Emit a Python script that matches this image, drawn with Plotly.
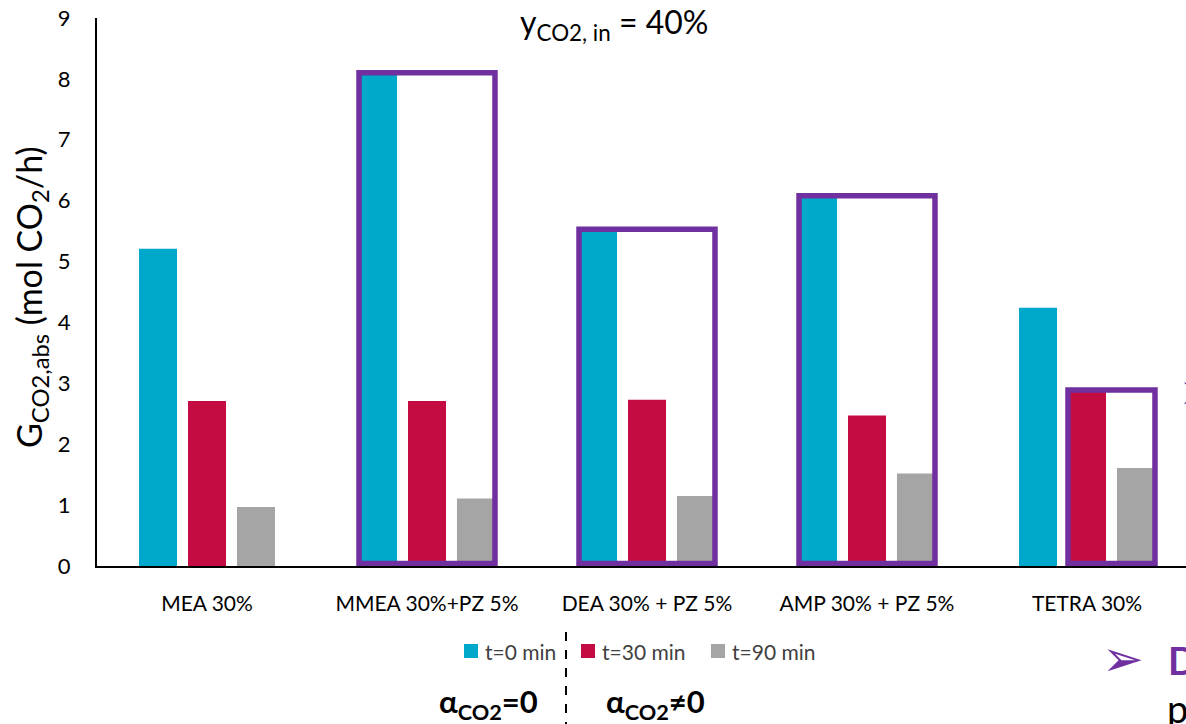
import plotly.graph_objects as go

# Absorbed CO2 rate for each solvent at three sampling times
solvents = ["MEA 30%", "MMEA 30%+PZ 5%", "DEA 30% + PZ 5%", "AMP 30% + PZ 5%", "TETRA 30%"]
series_names = ["t=0 min", "t=30 min", "t=90 min"]
g_t0 = [5.21, 8.10, 5.53, 6.08, 4.24]
g_t30 = [2.71, 2.71, 2.73, 2.47, 2.89]
g_t90 = [0.97, 1.11, 1.15, 1.52, 1.61]
series_values = [g_t0, g_t30, g_t90]
series_colors = ["#00A9CB", "#C40C42", "#A5A5A5"]

# Highlighted groups: (solvent index, first series, last series)
highlights = [(1, 0, 2), (2, 0, 2), (3, 0, 2), (4, 1, 2)]

FONT = "Lato, 'Open Sans', sans-serif"
W, H = 1186, 724
ML, MR, MT, MB = 97, 0, 18, 158
PW, PH = W - ML - MR, H - MT - MB
BARGAP, GROUPGAP = 0.332, 0.224


def px_x(px):
    return (px - ML) / PW


def px_y(py):
    return (H - MB - py) / PH


def label(x, y, text, size, color="black", xanchor="center", angle=0):
    fig.add_annotation(xref="paper", yref="paper", x=px_x(x), y=px_y(y),
                       text=text, showarrow=False, xanchor=xanchor, yanchor="middle",
                       textangle=angle, font=dict(family=FONT, size=size, color=color))


fig = go.Figure()
for name, vals, col in zip(series_names, series_values, series_colors):
    fig.add_trace(go.Bar(x=list(range(len(solvents))), y=vals, name=name,
                         marker=dict(color=col, line=dict(width=0)),
                         showlegend=False))

# purple frames around bar groups, sized from the bar layout
slot = (1 - BARGAP) / len(series_names)
bar_w = slot * (1 - GROUPGAP)
for ci, s0, s1 in highlights:
    left = ci - (1 - BARGAP) / 2 + s0 * slot + (slot - bar_w) / 2
    right = ci - (1 - BARGAP) / 2 + s1 * slot + (slot + bar_w) / 2
    top = max(series_values[s][ci] for s in range(s0, s1 + 1))
    fig.add_shape(type="rect", xref="x", yref="y", x0=left, x1=right,
                  y0=0.04, y1=top, line=dict(color="#7030A0", width=5.5),
                  layer="above")

# legend built below the axis
for name, col, sx in zip(series_names, series_colors, [464, 581, 711]):
    fig.add_shape(type="rect", xref="paper", yref="paper",
                  x0=px_x(sx), x1=px_x(sx + 14), y0=px_y(658), y1=px_y(644),
                  fillcolor=col, line=dict(width=0))
    label(sx + 19, 651, name, 21, color="#404040", xanchor="left")

# dashed separator
fig.add_shape(type="line", xref="paper", yref="paper", x0=px_x(566), x1=px_x(566),
              y0=px_y(632), y1=px_y(724), line=dict(color="black", width=2, dash="dash"))

label(488, 703, "<b>α<sub>CO2</sub>=0</b>", 31)
label(655, 703, "<b>α<sub>CO2</sub>≠0</b>", 31)

# heading
label(614, 24, "y<sub>CO2, in</sub> = 40%", 32)

# y-axis title
label(31, 297, "G<sub>CO2,abs</sub> (mol CO<sub>2</sub>/h)", 34, angle=-90)

# text continuing past the right edge
label(1123, 657, "➢", 50, color="#7030A0")
label(1166, 660, "<b>D</b>", 38, color="#7030A0", xanchor="left")
label(1165, 708, "p", 38, xanchor="left")
label(1176, 390, "➢", 50, color="#7030A0", xanchor="left")

fig.update_layout(
    width=W, height=H,
    margin=dict(l=ML, r=MR, t=MT, b=MB, pad=0),
    paper_bgcolor="white", plot_bgcolor="white",
    barmode="group", bargap=BARGAP, bargroupgap=GROUPGAP,
    font=dict(family=FONT, color="#404040"),
    showlegend=False,
)
fig.update_xaxes(range=[-0.5, 4.45], tickmode="array",
                 tickvals=list(range(len(solvents))), ticktext=solvents,
                 showline=True, linecolor="black", linewidth=2, showgrid=False,
                 zeroline=False, ticks="", ticklabelstandoff=18,
                 tickfont=dict(family=FONT, size=21, color="black"))
fig.update_yaxes(range=[0, 9], dtick=1, showline=True, linecolor="black", linewidth=2,
                 showgrid=False, zeroline=False, ticks="", ticklabelstandoff=20,
                 tickfont=dict(family=FONT, size=22, color="black"))

fig.write_html("out.html")
